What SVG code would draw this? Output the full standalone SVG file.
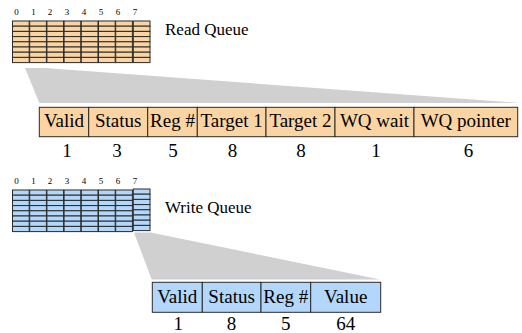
<svg xmlns="http://www.w3.org/2000/svg" width="522" height="333" viewBox="0 0 522 333" font-family="Liberation Serif, serif">
<style>
.dig{font-size:9px;text-anchor:middle}
.lbl{font-size:17px}
.cell{font-size:19px;text-anchor:middle}
.num{font-size:19px;text-anchor:middle}
.o{fill:#FBD4A4;stroke:#2a2a2a;stroke-width:1}
.b{fill:#B3D7FB;stroke:#2a2a2a;stroke-width:1}
.sh{fill:#D0D0D0}
</style>
<defs>
<g id="colO">
<rect class="o" x="0" y="0" width="16.7" height="5.2"/>
<rect class="o" x="0" y="5.2" width="16.7" height="5.2"/>
<rect class="o" x="0" y="10.4" width="16.7" height="5.2"/>
<rect class="o" x="0" y="15.6" width="16.7" height="5.2"/>
<rect class="o" x="0" y="20.8" width="16.7" height="5.2"/>
<rect class="o" x="0" y="26" width="16.7" height="5.2"/>
<rect class="o" x="0" y="31.2" width="16.7" height="5.2"/>
<rect class="o" x="0" y="36.4" width="16.7" height="5.2"/>
</g>
<g id="colB">
<rect class="b" x="0" y="0" width="16.7" height="5.2"/>
<rect class="b" x="0" y="5.2" width="16.7" height="5.2"/>
<rect class="b" x="0" y="10.4" width="16.7" height="5.2"/>
<rect class="b" x="0" y="15.6" width="16.7" height="5.2"/>
<rect class="b" x="0" y="20.8" width="16.7" height="5.2"/>
<rect class="b" x="0" y="26" width="16.7" height="5.2"/>
<rect class="b" x="0" y="31.2" width="16.7" height="5.2"/>
<rect class="b" x="0" y="36.4" width="16.7" height="5.2"/>
</g>
</defs>
<g id="connectors">
<polygon class="sh" points="25,68 45,68 520,103 39.3,103"/>
<polygon class="sh" points="134,232.5 150.5,232.5 380,279.5 151.7,279.5"/>
</g>
<g id="read-queue" font-family="Liberation Serif, serif">
<text class="dig" x="16.5" y="15">0</text>
<text class="dig" x="33.5" y="15">1</text>
<text class="dig" x="50" y="15">2</text>
<text class="dig" x="67" y="15">3</text>
<text class="dig" x="84" y="15">4</text>
<text class="dig" x="101" y="15">5</text>
<text class="dig" x="118" y="15">6</text>
<text class="dig" x="135" y="15">7</text>
<use href="#colO" x="12.5" y="21"/>
<use href="#colO" x="29.7" y="21"/>
<use href="#colO" x="46.9" y="21"/>
<use href="#colO" x="64.1" y="21"/>
<use href="#colO" x="81.3" y="21"/>
<use href="#colO" x="98.5" y="21"/>
<use href="#colO" x="115.7" y="21"/>
<use href="#colO" x="133.3" y="21"/>
<text class="lbl" x="165" y="35">Read Queue</text>
</g>
<g id="read-entry" font-family="Liberation Serif, serif">
<rect class="o" x="39.3" y="107.3" width="49.4" height="29.4"/>
<rect class="o" x="88.7" y="107.3" width="59" height="29.4"/>
<rect class="o" x="147.7" y="107.3" width="49.6" height="29.4"/>
<rect class="o" x="197.3" y="107.3" width="68.7" height="29.4"/>
<rect class="o" x="266" y="107.3" width="69" height="29.4"/>
<rect class="o" x="335" y="107.3" width="79" height="29.4"/>
<rect class="o" x="414" y="107.3" width="103.7" height="29.4"/>
<text class="cell" x="64" y="127.3">Valid</text>
<text class="cell" x="118.2" y="127.3">Status</text>
<text class="cell" x="172.5" y="127.3">Reg #</text>
<text class="cell" x="231.6" y="127.3">Target 1</text>
<text class="cell" x="300.5" y="127.3">Target 2</text>
<text class="cell" x="374.5" y="127.3">WQ wait</text>
<text class="cell" x="465.8" y="127.3">WQ pointer</text>
<text class="num" x="67" y="156.5">1</text>
<text class="num" x="117" y="156.5">3</text>
<text class="num" x="173" y="156.5">5</text>
<text class="num" x="232.5" y="156.5">8</text>
<text class="num" x="301" y="156.5">8</text>
<text class="num" x="376" y="156.5">1</text>
<text class="num" x="468.5" y="156.5">6</text>
</g>
<g id="write-queue" font-family="Liberation Serif, serif">
<text class="dig" x="16.5" y="184">0</text>
<text class="dig" x="33.5" y="184">1</text>
<text class="dig" x="50" y="184">2</text>
<text class="dig" x="67" y="184">3</text>
<text class="dig" x="84" y="184">4</text>
<text class="dig" x="101" y="184">5</text>
<text class="dig" x="118" y="184">6</text>
<text class="dig" x="135" y="184">7</text>
<use href="#colB" x="12.5" y="190"/>
<use href="#colB" x="29.7" y="190"/>
<use href="#colB" x="46.9" y="190"/>
<use href="#colB" x="64.1" y="190"/>
<use href="#colB" x="81.3" y="190"/>
<use href="#colB" x="98.5" y="190"/>
<use href="#colB" x="115.7" y="190"/>
<use href="#colB" x="133.3" y="189"/>
<text class="lbl" x="165" y="213">Write Queue</text>
</g>
<g id="write-entry" font-family="Liberation Serif, serif">
<rect class="b" x="152.3" y="282.3" width="50" height="30"/>
<rect class="b" x="202.3" y="282.3" width="58.7" height="30"/>
<rect class="b" x="261" y="282.3" width="49.7" height="30"/>
<rect class="b" x="310.7" y="282.3" width="70" height="30"/>
<text class="cell" x="177.3" y="303">Valid</text>
<text class="cell" x="231.6" y="303">Status</text>
<text class="cell" x="285.8" y="303">Reg #</text>
<text class="cell" x="345.7" y="303">Value</text>
<text class="num" x="178.3" y="329.5">1</text>
<text class="num" x="231.6" y="329.5">8</text>
<text class="num" x="285.8" y="329.5">5</text>
<text class="num" x="345.7" y="329.5">64</text>
</g>
</svg>
